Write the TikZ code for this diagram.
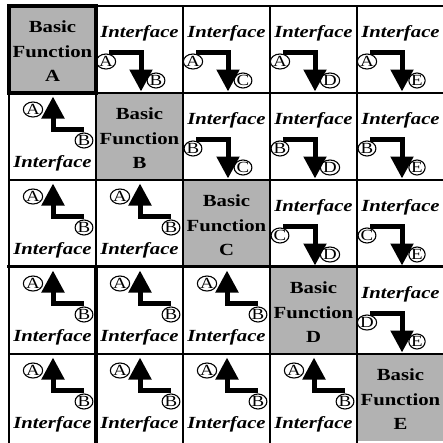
\documentclass[tikz,border=0pt]{standalone}
\usepackage{fontspec}
\setmainfont{Liberation Serif}[FakeStretch=1.22]
\usetikzlibrary{arrows.meta,shapes.geometric}

\tikzset{
  funcfill/.style={fill=black!30},
  gridline/.style={line width=2pt,line cap=rect},
  funclabel/.style={font=\fontsize{17}{24.5}\selectfont\bfseries,align=center},
  iflabel/.style={font=\fontsize{17}{20}\selectfont\bfseries\itshape,anchor=base},
  port/.style={draw,ellipse,line width=1.1pt,inner sep=0pt,minimum width=13.5pt,
    minimum height=15pt,outer sep=1.5pt,font=\fontsize{15.5}{15.5}\selectfont},
  flow/.style={line width=5pt,-{Triangle[length=22pt,width=22pt]}},
}

\begin{document}
\begin{tikzpicture}[x=1pt,y=-1pt]
  \useasboundingbox (0,0) rectangle (443,442);
  \foreach \i/\R in {1/A,2/B,3/C,4/D,5/E} {
    \foreach \j/\C in {1/A,2/B,3/C,4/D,5/E} {
      \pgfmathsetmacro\xo{9+87*(\j-1)}
      \pgfmathsetmacro\yo{5.5+87*(\i-1)}
      \ifnum\j=\i
        \fill[funcfill] (\xo,\yo) rectangle (\xo+87,\yo+87);
        \node[funclabel] (f\i) at (\xo+43.5,\yo+46) {Basic\\Function\\\R};
      \fi
      \ifnum\j>\i
        \node[iflabel] (if\i\j) at (\xo+43.5,\yo+32) {Interface};
        \node[port] (s\i\j) at (\xo+10,\yo+56) {\R};
        \node[port] (t\i\j) at (\xo+60,\yo+75) {\C};
        \coordinate (h\i\j) at (\xo+45,\yo+86);
        \draw[flow] (s\i\j.70) -| (h\i\j);
      \fi
      \ifnum\j<\i
        \node[iflabel] (if\i\j) at (\xo+43.5,\yo+75) {Interface};
        \node[port] (s\i\j) at (\xo+75,\yo+48) {B};
        \node[port] (t\i\j) at (\xo+24,\yo+17) {A};
        \coordinate (h\i\j) at (\xo+44,\yo+4);
        \draw[flow] ([yshift=2pt]s\i\j.north) -| (h\i\j);
      \fi
    }
  }
  % grid
  \foreach \k in {0,...,4} {
    \draw[gridline] (9+87*\k,5.5) -- (9+87*\k,442);
    \draw[gridline] (9,5.5+87*\k) -- (443,5.5+87*\k);
  }
  \draw[gridline,line width=3.5pt] (9,266.5) -- (443,266.5);
  \draw[gridline,line width=3.5pt] (96,266.5) -- (96,442);
  \draw[line width=4pt] (9,5.5) rectangle (96,92.5);
\end{tikzpicture}
\end{document}
